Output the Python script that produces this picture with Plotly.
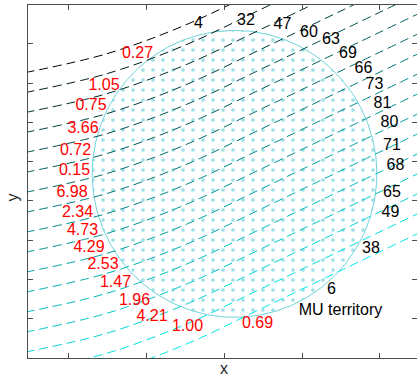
import numpy as np
import plotly.graph_objects as go

# ---------------- data ----------------
# sample x positions shared by all dashed fibre lines
line_x = [-5.1, -3.0, -1.0, 1.0, 3.0, 5.0]
# y values of each dashed line (top line first)
line_y = [
    [3.267, 3.748, 4.473, 5.410, 6.361, 7.313],
    [2.759, 3.240, 3.965, 4.902, 5.853, 6.805],
    [2.251, 2.732, 3.457, 4.394, 5.345, 6.297],
    [1.743, 2.224, 2.949, 3.886, 4.837, 5.789],
    [1.235, 1.716, 2.441, 3.378, 4.329, 5.281],
    [0.727, 1.208, 1.933, 2.870, 3.821, 4.773],
    [0.219, 0.700, 1.425, 2.362, 3.313, 4.265],
    [-0.289, 0.192, 0.917, 1.854, 2.805, 3.757],
    [-0.797, -0.316, 0.409, 1.346, 2.297, 3.249],
    [-1.305, -0.824, -0.099, 0.838, 1.789, 2.741],
    [-1.813, -1.332, -0.607, 0.330, 1.281, 2.233],
    [-2.321, -1.840, -1.115, -0.178, 0.773, 1.725],
    [-2.829, -2.348, -1.623, -0.686, 0.265, 1.217],
    [-3.337, -2.856, -2.131, -1.194, -0.243, 0.709],
    [-3.845, -3.364, -2.639, -1.702, -0.751, 0.201],
    [-4.353, -3.872, -3.147, -2.210, -1.259, -0.307],
    [-4.861, -4.380, -3.655, -2.718, -1.767, -0.815],
]

# entry labels (red) and exit labels (black)
red_labels = ["0.27", "1.05", "0.75", "3.66", "0.72", "0.15", "6.98", "2.34",
              "4.73", "4.29", "2.53", "1.47", "1.96", "4.21", "1.00", "0.69"]
red_x = [-2.218, -3.077, -3.410, -3.615, -3.808, -3.833, -3.897, -3.756,
         -3.628, -3.462, -3.103, -2.782, -2.295, -1.846, -0.936, 0.859]
red_y = [3.728, 2.926, 2.417, 1.832, 1.272, 0.763, 0.191, -0.305,
         -0.763, -1.196, -1.641, -2.087, -2.545, -2.952, -3.206, -3.142]

black_labels = ["4", "32", "47", "60", "63", "69", "66", "73",
                "81", "80", "71", "68", "65", "49", "38", "6"]
black_x = [-0.654, 0.564, 1.500, 2.179, 2.744, 3.179, 3.577, 3.859,
           4.064, 4.244, 4.308, 4.397, 4.308, 4.269, 3.769, 2.756]
black_y = [4.504, 4.580, 4.478, 4.275, 4.084, 3.728, 3.346, 2.939,
           2.468, 1.985, 1.412, 0.891, 0.204, -0.293, -1.209, -2.277]

territory_label = "MU territory"
territory_pos = (2.987, -2.799)
territory_center = (0.27, 0.69)
territory_radius = 3.65

# ---------------- figure ----------------
fig = go.Figure()

# motor-unit territory: dotted disc
t = np.linspace(0, 2 * np.pi, 361)
cx, cy = territory_center
fig.add_trace(go.Scatter(
    x=cx + territory_radius * np.cos(t), y=cy + territory_radius * np.sin(t),
    mode="lines", fill="toself", fillcolor="rgba(0,0,0,0)",
    fillpattern=dict(shape=".", fgcolor="rgb(64,192,204)", bgcolor="rgba(0,0,0,0)",
                     size=10, solidity=0.11),
    line=dict(color="rgb(110,212,218)", width=1),
    hoverinfo="skip", showlegend=False))

n = len(line_y)
for k, ys in enumerate(line_y):
    f = (k / (n - 1)) ** 0.8
    col = "rgb(0,%d,%d)" % (round(235 * f), round(235 * f))
    fig.add_trace(go.Scatter(
        x=line_x, y=ys, mode="lines",
        line=dict(color=col, width=1, dash="9px,5px", shape="spline", smoothing=1.0),
        hoverinfo="skip", showlegend=False))

fig.add_trace(go.Scatter(
    x=red_x, y=red_y, mode="text", text=red_labels, textposition="middle center",
    textfont=dict(family="Liberation Sans, Arial", size=16, color="#ff0000"),
    hoverinfo="skip", showlegend=False, cliponaxis=False))
fig.add_trace(go.Scatter(
    x=black_x, y=black_y, mode="text", text=black_labels, textposition="middle center",
    textfont=dict(family="Liberation Sans, Arial", size=16, color="#000000"),
    hoverinfo="skip", showlegend=False, cliponaxis=False))
fig.add_trace(go.Scatter(
    x=[territory_pos[0]], y=[territory_pos[1]], mode="text", text=[territory_label],
    textposition="middle center",
    textfont=dict(family="Liberation Sans, Arial", size=16, color="#000000"),
    hoverinfo="skip", showlegend=False, cliponaxis=False))

axis_common = dict(showgrid=False, zeroline=False, showline=True, linecolor="#4d4d4d",
                   linewidth=1, ticks="inside", ticklen=5, tickcolor="#4d4d4d",
                   showticklabels=False)
fig.update_xaxes(range=[-5.026, 4.949], tickvals=[-4, -2, 0, 2, 4],
                 mirror="allticks", **axis_common)
fig.update_yaxes(range=[-3.995, 4.987], tickvals=[-3, -2, -1, 0, 1, 2, 3, 4],
                 mirror="ticks", **axis_common)

fig.add_annotation(text="x", xref="paper", yref="paper", x=0.504, y=-0.031,
                   showarrow=False, xanchor="center", yanchor="middle",
                   font=dict(family="Liberation Sans, Arial", size=16, color="#262626"))
fig.add_annotation(text="y", xref="paper", yref="paper", x=-0.041, y=0.455,
                   showarrow=False, xanchor="center", yanchor="middle", textangle=-90,
                   font=dict(family="Liberation Sans, Arial", size=16, color="#262626"))

fig.update_layout(width=417, height=379, margin=dict(l=28, r=0, t=5, b=21),
                  paper_bgcolor="white", plot_bgcolor="white")

fig.write_html("out.html")
